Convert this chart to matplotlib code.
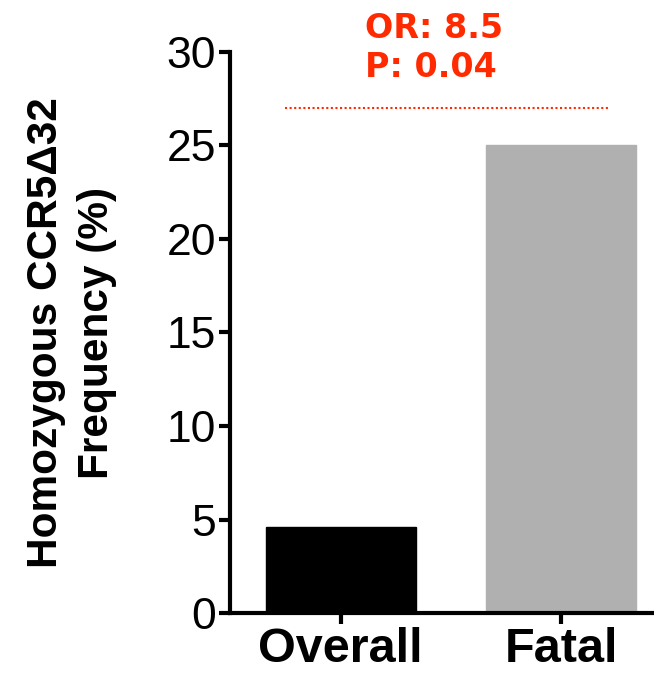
import matplotlib
matplotlib.use("Agg")
import matplotlib.pyplot as plt

categories = ["Overall", "Fatal"]
values = [4.6, 25.0]
colors = ["#000000", "#b0b0b0"]
yticks = [0, 5, 10, 15, 20, 25, 30]
sig_level = 27.0
annot = "OR: 8.5\nP: 0.04"

fig = plt.figure(figsize=(6.54, 6.73), dpi=100)
ax = fig.add_axes([0.352, 0.089, 0.648, 0.834])
x = list(range(len(categories)))
ax.bar(x, values, width=0.68, color=colors, edgecolor=colors)
ax.set_xlim(-0.5, 1.42)
ax.set_ylim(0, 30)
ax.set_yticks(yticks)
ax.set_xticks(x)
ax.set_xticklabels(categories, fontfamily="Liberation Sans", fontweight="bold", fontsize=35)
for lab in ax.get_yticklabels():
    lab.set_fontfamily("Liberation Sans")
    lab.set_fontsize(32)
ax.tick_params(axis="y", length=8, width=3, pad=2)
ax.tick_params(axis="x", length=8, width=3, pad=2)
for s in ["top", "right"]:
    ax.spines[s].set_visible(False)
for s in ["left", "bottom"]:
    ax.spines[s].set_linewidth(3)
ax.set_ylabel("Homozygous CCR5Δ32\nFrequency (%)", fontfamily="Liberation Sans",
              fontweight="bold", fontsize=30.5, labelpad=36, linespacing=1.35)
ax.plot([-0.25, 1.21], [sig_level, sig_level], linestyle=(0, (1, 1.2)), color="#ff2a00", lw=1.5)
ax.text(0.11, 30.2, annot, ha="left", va="center", color="#ff2a00",
        fontfamily="DejaVu Sans", fontweight="bold", fontsize=24, linespacing=1.2, clip_on=False)
fig.savefig("out.png", dpi=100)
